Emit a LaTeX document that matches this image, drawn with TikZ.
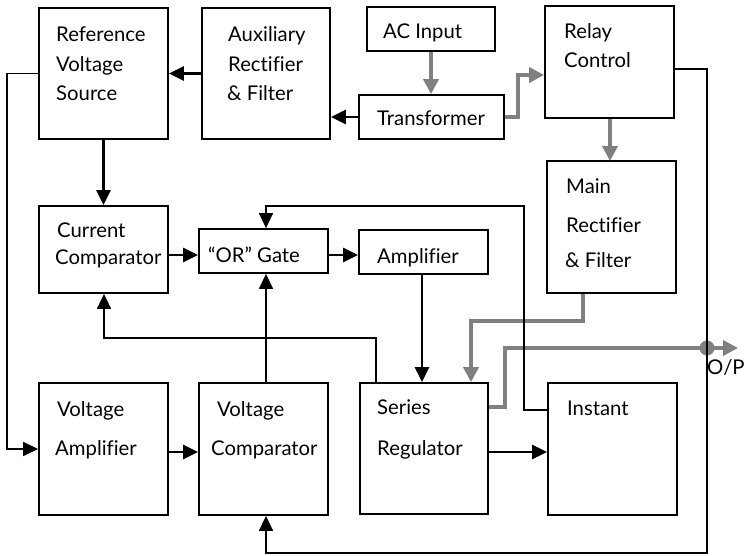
\documentclass[tikz,border=0pt]{standalone}
\usepackage{fontspec}
\setmainfont[Ligatures=NoCommon]{Lato}
\usetikzlibrary{arrows.meta}
\definecolor{ag}{HTML}{808080}
\begin{document}
\begin{tikzpicture}[x=1pt,y=-1pt,
  box/.style={draw, line width=1.8pt, inner sep=0pt, rectangle},
  lbl/.style={anchor=base west, inner sep=0pt, font=\fontsize{20.3}{22}\selectfont},
  arr/.style={line width=2.4pt, -{Triangle[length=15pt,width=14pt]}},
  thinarr/.style={line width=1.6pt, -{Triangle[length=15pt,width=14pt]}},
  garr/.style={line width=4pt, draw=ag, -{Triangle[length=15pt,width=15pt]}}]
\useasboundingbox (0,0) rectangle (747,555);
% boxes
\node[box, minimum width=129pt, minimum height=131pt] (rvs) at (103.5,73.5) {};
\node[box, minimum width=128pt, minimum height=131pt] (aux) at (266,73.5) {};
\node[box, minimum width=128pt, minimum height=44pt] (ac) at (431,29) {};
\node[box, minimum width=145pt, minimum height=44pt] (tr) at (431.5,117) {};
\node[box, minimum width=129pt, minimum height=112pt] (relay) at (609.5,62) {};
\node[box, minimum width=129pt, minimum height=132pt] (main) at (611.5,227) {};
\node[box, minimum width=129pt, minimum height=87pt] (cc) at (103.5,249.5) {};
\node[box, minimum width=129pt, minimum height=44pt] (or) at (263.5,251) {};
\node[box, minimum width=129pt, minimum height=44pt] (amp) at (423.5,252) {};
\node[box, minimum width=129pt, minimum height=132pt] (va) at (103.5,449) {};
\node[box, minimum width=129pt, minimum height=132pt] (vc) at (263.5,449) {};
\node[box, minimum width=128pt, minimum height=131pt] (sr) at (424,448.5) {};
\node[box, minimum width=129pt, minimum height=132pt] (inst) at (612.5,449) {};
% texts
\node[lbl] (rvs1) at (56,41) {Reference};
\node[lbl] (rvs2) at (56,71) {Voltage};
\node[lbl] (rvs3) at (56,100) {Source};
\node[lbl] (aux1) at (228,41) {Auxiliary};
\node[lbl] (aux2) at (228,71) {Rectifier};
\node[lbl] (aux3) at (227,100) {\& Filter};
\node[lbl] (ac1) at (383,38) {AC Input};
\node[lbl] (tr1) at (377,125) {Transformer};
\node[lbl] (relay1) at (564,38) {Relay};
\node[lbl] (relay2) at (564,67) {Control};
\node[lbl] (main1) at (566,193) {Main};
\node[lbl] (main2) at (566,232) {Rectifier};
\node[lbl] (main3) at (565,267) {\& Filter};
\node[lbl] (cc1) at (57,237) {Current};
\node[lbl] (cc2) at (55,264) {Comparator};
\node[lbl] (or1) at (208,262) {“OR” Gate};
\node[lbl] (amp1) at (377,263) {Amplifier};
\node[lbl] (va1) at (57,416) {Voltage};
\node[lbl] (va2) at (55,455) {Amplifier};
\node[lbl] (vc1) at (217,416) {Voltage};
\node[lbl] (vc2) at (211,455) {Comparator};
\node[lbl] (sr1) at (377,414) {Series};
\node[lbl] (sr2) at (377,455) {Regulator};
\node[lbl] (inst1) at (567,415) {Instant};
\node[lbl] (op) at (707,374) {O/P};
% gray power paths
\coordinate (opend) at (738,348);
\draw[garr] (ac.south) -- (ac.south |- tr.north);
\draw[garr] (tr.east) -| (518,75) -- (relay.west |- 0,75);
\draw[garr] (relay.south -| 610,0) -- (610,161);
\draw[garr] (main.south -| 583,0) |- (471,321) -- (sr.north -| 471,0);
\draw[garr] (sr.east |- 0,407) -| (505,348) -- (opend);
\node[circle, fill=ag, inner sep=0pt, minimum size=15pt] (dot) at (707,348) {};
% black signal paths
\draw[arr] (aux.west) -- (rvs.east);
\draw[arr] (tr.west) -- (aux.east |- tr.west);
\draw[arr] (rvs.south) -- (cc.north);
\draw[arr] (cc.east |- 0,255) -- (or.west |- 0,255);
\draw[arr] (or.east |- 0,255) -- (amp.west |- 0,255);
\draw[arr] (amp.south -| 422,0) -- (sr.north -| 422,0);
\draw[arr] (va.east |- 0,452) -- (vc.west |- 0,452);
\draw[arr] (sr.east |- 0,452) -- (inst.west |- 0,452);
\draw[thinarr] (vc.north -| 266,0) -- (or.south -| 266,0);
\draw[thinarr] (sr.north -| 376,0) |- (104,338) -- (cc.south -| 104,0);
\draw[thinarr] (inst.west |- 0,410) -| (524,206) -| (or.north -| 266,0);
\draw[thinarr] (rvs.west) -| (7,449) -- (va.west);
\draw[thinarr] (relay.east |- 0,69) -| (707,553) -| (vc.south -| 266,0);
\end{tikzpicture}
\end{document}
